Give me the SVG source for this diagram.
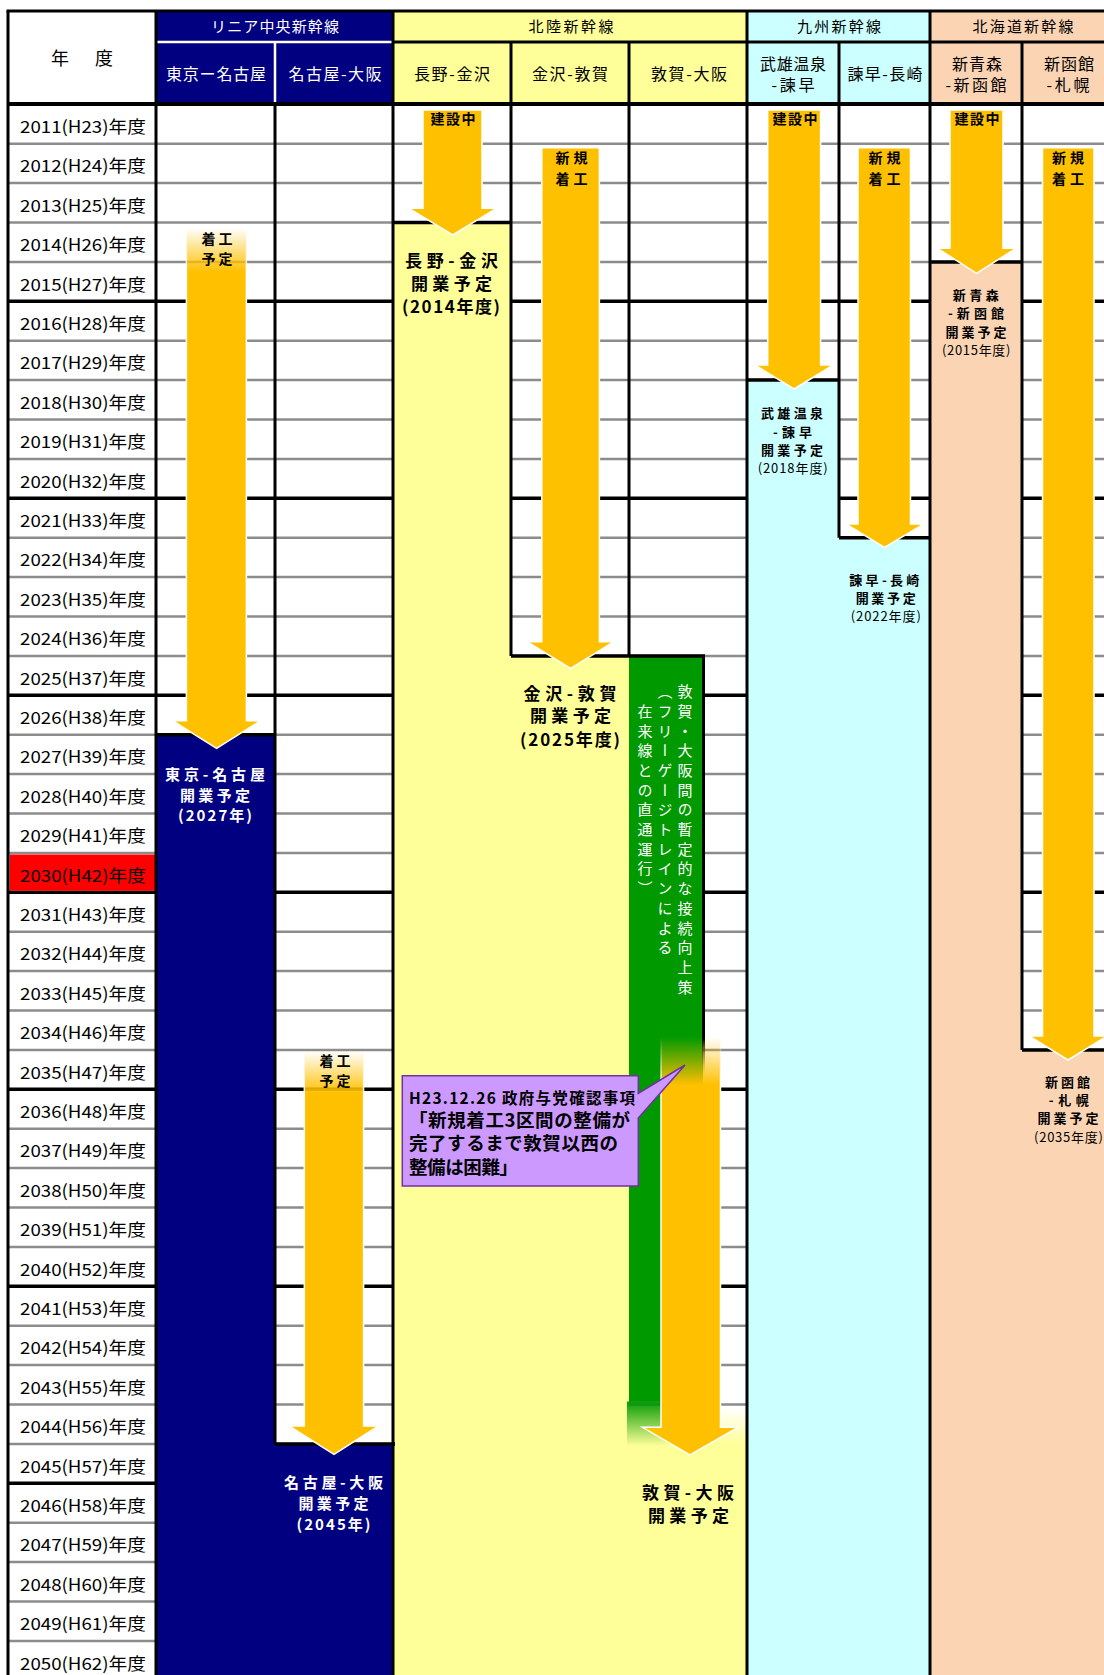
<svg xmlns="http://www.w3.org/2000/svg" width="1104" height="1675" viewBox="0 0 1104 1675">
<defs>
<style>
text{font-family:"Noto Sans CJK JP","Noto Sans CJK SC",sans-serif;}
.yr{font-size:17px;fill:#000;}
.hd{font-size:16px;fill:#000;}
.hw{font-size:16px;fill:#fff;}
.gt{font-size:15px;}
.b14{font-size:14px;font-weight:700;fill:#000;}
.b18{font-size:17px;font-weight:700;fill:#000;}
.w16{font-size:15px;font-weight:700;fill:#fff;}
.b13{font-size:13px;font-weight:700;fill:#000;}
.n13{font-size:13px;fill:#000;}
.vt{font-size:15px;fill:#fff;writing-mode:vertical-rl;letter-spacing:4.7px;}
.cb{font-weight:700;fill:#000;}
.gl{stroke:#8c8c8c;stroke-width:2.5;fill:none;}
.bl{stroke:#000;stroke-width:3.5;fill:none;}
.sep{stroke:#000;stroke-width:3;fill:none;}
.arr{stroke:#fff;stroke-width:1.5;}
</style>
<linearGradient id="gA" gradientUnits="userSpaceOnUse" x1="0" y1="228" x2="0" y2="272">
<stop offset="0" stop-color="#FFC000" stop-opacity="0"/><stop offset="1" stop-color="#FFC000" stop-opacity="1"/>
</linearGradient>
<linearGradient id="gAs" gradientUnits="userSpaceOnUse" x1="0" y1="228" x2="0" y2="272">
<stop offset="0" stop-color="#fff" stop-opacity="0"/><stop offset="1" stop-color="#fff" stop-opacity="1"/>
</linearGradient>
<linearGradient id="gB" gradientUnits="userSpaceOnUse" x1="0" y1="1051" x2="0" y2="1094">
<stop offset="0" stop-color="#FFC000" stop-opacity="0"/><stop offset="1" stop-color="#FFC000" stop-opacity="1"/>
</linearGradient>
<linearGradient id="gBs" gradientUnits="userSpaceOnUse" x1="0" y1="1051" x2="0" y2="1094">
<stop offset="0" stop-color="#fff" stop-opacity="0"/><stop offset="1" stop-color="#fff" stop-opacity="1"/>
</linearGradient>
<linearGradient id="gE" gradientUnits="userSpaceOnUse" x1="0" y1="1037" x2="0" y2="1085">
<stop offset="0" stop-color="#FFC000" stop-opacity="0"/><stop offset="1" stop-color="#FFC000" stop-opacity="1"/>
</linearGradient>
<linearGradient id="gEs" gradientUnits="userSpaceOnUse" x1="0" y1="1037" x2="0" y2="1085">
<stop offset="0" stop-color="#fff" stop-opacity="0"/><stop offset="1" stop-color="#fff" stop-opacity="1"/>
</linearGradient>
<linearGradient id="gGreen" gradientUnits="userSpaceOnUse" x1="0" y1="1400" x2="0" y2="1446">
<stop offset="0" stop-color="#009900" stop-opacity="1"/><stop offset="1" stop-color="#009900" stop-opacity="0"/>
</linearGradient>
<linearGradient id="gWhite" gradientUnits="userSpaceOnUse" x1="0" y1="1408" x2="0" y2="1444">
<stop offset="0" stop-color="#fff" stop-opacity="1"/><stop offset="1" stop-color="#fff" stop-opacity="0"/>
</linearGradient>
<linearGradient id="gLine" gradientUnits="userSpaceOnUse" x1="0" y1="1040" x2="0" y2="1075">
<stop offset="0" stop-color="#000" stop-opacity="1"/><stop offset="1" stop-color="#000" stop-opacity="0"/>
</linearGradient>
</defs>

<rect x="0" y="0" width="1104" height="1675" fill="#fff"/>

<!-- row lines -->
<g id="row-lines">
<path class="gl" d="M8 143.7H1104M8 183.1H1104M8 222.5H1104M8 261.9H1104M8 340.7H1104M8 380.1H1104M8 419.5H1104M8 458.9H1104M8 537.7H1104M8 577.1H1104M8 616.5H1104M8 655.9H1104M8 734.7H1104M8 774.1H1104M8 813.5H1104M8 852.9H1104M8 931.7H1104M8 971.1H1104M8 1010.5H1104M8 1049.9H1104M8 1128.7H1104M8 1168.1H1104M8 1207.5H1104M8 1246.9H1104M8 1325.7H1104M8 1365.1H1104M8 1404.5H1104M8 1443.9H1104M8 1522.7H1104M8 1562.1H1104M8 1601.5H1104M8 1640.9H1104"/>
<path class="bl" d="M8 301.3H1104M8 498.3H1104M8 695.3H1104M8 892.3H1104M8 1089.3H1104M8 1286.3H1104M8 1483.3H1104"/>
</g>

<!-- coloured regions -->
<g id="regions">
<rect x="9.5" y="854.5" width="145.5" height="36.3" fill="#FF0000"/>
<rect x="156" y="734.7" width="119" height="941" fill="#000080"/>
<rect x="275" y="1443.9" width="118" height="232" fill="#000080"/>
<rect x="393" y="222.5" width="118" height="1453" fill="#FFFF99"/>
<rect x="511" y="655.9" width="118" height="1020" fill="#FFFF99"/>
<rect x="629" y="1407" width="118" height="268" fill="#FFFF99"/>
<rect x="629" y="655.9" width="74" height="746" fill="#009900"/>
<rect x="627" y="1401.5" width="76" height="45" fill="url(#gGreen)"/>
<rect x="705" y="1407" width="42" height="37" fill="url(#gWhite)"/>
<rect x="747" y="380.1" width="92" height="1295" fill="#CCFFFF"/>
<rect x="839" y="537.7" width="91" height="1138" fill="#CCFFFF"/>
<rect x="930" y="261.9" width="92" height="1414" fill="#FBD4B4"/>
<rect x="1022" y="1049.9" width="82" height="626" fill="#FBD4B4"/>
</g>

<!-- header -->
<g id="header">
<rect x="8" y="11" width="148" height="93" fill="#fff"/>
<rect x="156" y="11" width="237" height="93" fill="#000080"/>
<rect x="393" y="11" width="354" height="93" fill="#FFFF99"/>
<rect x="747" y="11" width="183" height="93" fill="#CCFFFF"/>
<rect x="930" y="11" width="174" height="93" fill="#FBD4B4"/>
<path d="M156 42H393M275 42V104" stroke="#fff" stroke-width="2.5" fill="none"/>
<path class="sep" d="M393 42H1104M511 42V104M629 42V104M839 42V104M1022 42V104"/>
<path d="M8 104H1104" stroke="#000" stroke-width="4" fill="none"/>
<path d="M6.5 11H1104" stroke="#000" stroke-width="3" fill="none"/>
<text x="51" y="65" style="font-size:18px;letter-spacing:4px">年　度</text>
<text x="275" y="32" class="gt" fill="#fff" text-anchor="middle" textLength="128">リニア中央新幹線</text>
<text x="571" y="32" class="gt" fill="#000" text-anchor="middle" textLength="85">北陸新幹線</text>
<text x="839" y="32" class="gt" fill="#000" text-anchor="middle" textLength="84">九州新幹線</text>
<text x="1023" y="32" class="gt" fill="#000" text-anchor="middle" textLength="101">北海道新幹線</text>
<text x="216" y="80" class="hw" text-anchor="middle" textLength="100">東京ー名古屋</text>
<text x="335" y="80" class="hw" text-anchor="middle" textLength="93">名古屋-大阪</text>
<text x="452" y="80" class="hd" text-anchor="middle" textLength="76">長野-金沢</text>
<text x="570" y="80" class="hd" text-anchor="middle" textLength="76">金沢-敦賀</text>
<text x="689" y="80" class="hd" text-anchor="middle" textLength="76">敦賀-大阪</text>
<text x="793" y="70" class="hd" text-anchor="middle" textLength="66">武雄温泉</text>
<text x="793" y="91" class="hd" text-anchor="middle" textLength="43">-諫早</text>
<text x="885" y="80" class="hd" text-anchor="middle" textLength="75">諫早-長崎</text>
<text x="977" y="70" class="hd" text-anchor="middle" textLength="50">新青森</text>
<text x="976" y="91" class="hd" text-anchor="middle" textLength="61">-新函館</text>
<text x="1069" y="70" class="hd" text-anchor="middle" textLength="50">新函館</text>
<text x="1068" y="91" class="hd" text-anchor="middle" textLength="43">-札幌</text>
</g>

<!-- region borders and column separators -->
<g id="borders">
<path class="sep" d="M8 11V1675M156 11V1675M393 11V1675M747 11V1675M930 11V1675"/>
<path class="sep" d="M275 104V1444M511 104V656M629 104V656M839 104V537.7M1022 104V1050M703.5 656V1040"/>
<path d="M703.5 1040V1075" stroke="url(#gLine)" stroke-width="3" fill="none"/>
<path class="bl" d="M393 222.5H511M511 655.9H705M156 734.7H275M275 1443.9H395M747 380.1H839M839 537.7H930M930 261.9H1022M1022 1049.9H1104"/>
</g>

<!-- year column -->
<g id="years">
<text class="yr" x="20" y="133.0" textLength="126" lengthAdjust="spacingAndGlyphs">2011(H23)年度</text>
<text class="yr" x="20" y="172.4" textLength="126" lengthAdjust="spacingAndGlyphs">2012(H24)年度</text>
<text class="yr" x="20" y="211.8" textLength="126" lengthAdjust="spacingAndGlyphs">2013(H25)年度</text>
<text class="yr" x="20" y="251.2" textLength="126" lengthAdjust="spacingAndGlyphs">2014(H26)年度</text>
<text class="yr" x="20" y="290.6" textLength="126" lengthAdjust="spacingAndGlyphs">2015(H27)年度</text>
<text class="yr" x="20" y="330.0" textLength="126" lengthAdjust="spacingAndGlyphs">2016(H28)年度</text>
<text class="yr" x="20" y="369.4" textLength="126" lengthAdjust="spacingAndGlyphs">2017(H29)年度</text>
<text class="yr" x="20" y="408.8" textLength="126" lengthAdjust="spacingAndGlyphs">2018(H30)年度</text>
<text class="yr" x="20" y="448.2" textLength="126" lengthAdjust="spacingAndGlyphs">2019(H31)年度</text>
<text class="yr" x="20" y="487.6" textLength="126" lengthAdjust="spacingAndGlyphs">2020(H32)年度</text>
<text class="yr" x="20" y="527.0" textLength="126" lengthAdjust="spacingAndGlyphs">2021(H33)年度</text>
<text class="yr" x="20" y="566.4" textLength="126" lengthAdjust="spacingAndGlyphs">2022(H34)年度</text>
<text class="yr" x="20" y="605.8" textLength="126" lengthAdjust="spacingAndGlyphs">2023(H35)年度</text>
<text class="yr" x="20" y="645.2" textLength="126" lengthAdjust="spacingAndGlyphs">2024(H36)年度</text>
<text class="yr" x="20" y="684.6" textLength="126" lengthAdjust="spacingAndGlyphs">2025(H37)年度</text>
<text class="yr" x="20" y="724.0" textLength="126" lengthAdjust="spacingAndGlyphs">2026(H38)年度</text>
<text class="yr" x="20" y="763.4" textLength="126" lengthAdjust="spacingAndGlyphs">2027(H39)年度</text>
<text class="yr" x="20" y="802.8" textLength="126" lengthAdjust="spacingAndGlyphs">2028(H40)年度</text>
<text class="yr" x="20" y="842.2" textLength="126" lengthAdjust="spacingAndGlyphs">2029(H41)年度</text>
<text class="yr" x="20" y="881.6" textLength="126" lengthAdjust="spacingAndGlyphs" fill="#fff">2030(H42)年度</text>
<text class="yr" x="20" y="921.0" textLength="126" lengthAdjust="spacingAndGlyphs">2031(H43)年度</text>
<text class="yr" x="20" y="960.4" textLength="126" lengthAdjust="spacingAndGlyphs">2032(H44)年度</text>
<text class="yr" x="20" y="999.8" textLength="126" lengthAdjust="spacingAndGlyphs">2033(H45)年度</text>
<text class="yr" x="20" y="1039.2" textLength="126" lengthAdjust="spacingAndGlyphs">2034(H46)年度</text>
<text class="yr" x="20" y="1078.6" textLength="126" lengthAdjust="spacingAndGlyphs">2035(H47)年度</text>
<text class="yr" x="20" y="1118.0" textLength="126" lengthAdjust="spacingAndGlyphs">2036(H48)年度</text>
<text class="yr" x="20" y="1157.4" textLength="126" lengthAdjust="spacingAndGlyphs">2037(H49)年度</text>
<text class="yr" x="20" y="1196.8" textLength="126" lengthAdjust="spacingAndGlyphs">2038(H50)年度</text>
<text class="yr" x="20" y="1236.2" textLength="126" lengthAdjust="spacingAndGlyphs">2039(H51)年度</text>
<text class="yr" x="20" y="1275.6" textLength="126" lengthAdjust="spacingAndGlyphs">2040(H52)年度</text>
<text class="yr" x="20" y="1315.0" textLength="126" lengthAdjust="spacingAndGlyphs">2041(H53)年度</text>
<text class="yr" x="20" y="1354.4" textLength="126" lengthAdjust="spacingAndGlyphs">2042(H54)年度</text>
<text class="yr" x="20" y="1393.8" textLength="126" lengthAdjust="spacingAndGlyphs">2043(H55)年度</text>
<text class="yr" x="20" y="1433.2" textLength="126" lengthAdjust="spacingAndGlyphs">2044(H56)年度</text>
<text class="yr" x="20" y="1472.6" textLength="126" lengthAdjust="spacingAndGlyphs">2045(H57)年度</text>
<text class="yr" x="20" y="1512.0" textLength="126" lengthAdjust="spacingAndGlyphs">2046(H58)年度</text>
<text class="yr" x="20" y="1551.4" textLength="126" lengthAdjust="spacingAndGlyphs">2047(H59)年度</text>
<text class="yr" x="20" y="1590.8" textLength="126" lengthAdjust="spacingAndGlyphs">2048(H60)年度</text>
<text class="yr" x="20" y="1630.2" textLength="126" lengthAdjust="spacingAndGlyphs">2049(H61)年度</text>
<text class="yr" x="20" y="1669.6" textLength="126" lengthAdjust="spacingAndGlyphs">2050(H62)年度</text>
</g>

<!-- arrows -->
<g id="connectors">
<path id="arrow-tokyo-nagoya" fill="url(#gA)" stroke="url(#gAs)" stroke-width="1.5" d="M186.4 228H246.4V720.7H260.7L216.6 748.3L172.5 720.7H186.4Z"/>
<path id="arrow-nagoya-osaka" fill="url(#gB)" stroke="url(#gBs)" stroke-width="1.5" d="M304.3 1051.7H363.6V1426H378.6L334 1454.3L289 1426H304.3Z"/>
<path id="arrow-nagano-kanazawa" class="arr" fill="#FFC000" d="M423 110H482V208.3H496.4L452.7 235L409 208.3H423Z"/>
<path id="arrow-kanazawa-tsuruga" class="arr" fill="#FFC000" d="M541.8 147.7H599.4V641.7H614L570.6 668.3L527 641.7H541.8Z"/>
<path id="arrow-tsuruga-osaka" fill="url(#gE)" stroke="url(#gEs)" stroke-width="1.5" d="M661 1037H720.5V1427.3H737.8L690 1455L642.5 1427.3H661Z"/>
<path id="arrow-takeo-isahaya" class="arr" fill="#FFC000" d="M767.7 110H820.6V365H833.5L794 389L755 365H767.7Z"/>
<path id="arrow-isahaya-nagasaki" class="arr" fill="#FFC000" d="M858 147.7H910.5V524H924L884.5 547.3L845.8 524H858Z"/>
<path id="arrow-aomori-hakodate" class="arr" fill="#FFC000" d="M950 110H1003V248.3H1016L976.5 273.3L937.5 248.3H950Z"/>
<path id="arrow-hakodate-sapporo" class="arr" fill="#FFC000" d="M1042.5 147.7H1094V1036H1107L1068 1060L1029 1036H1042.5Z"/>
</g>

<!-- labels: Linear -->
<g id="node-linear-a">
<text class="b14" x="217" y="243.5" text-anchor="middle" textLength="31">着工</text>
<text class="b14" x="217" y="263.5" text-anchor="middle" textLength="31">予定</text>
<text class="w16" x="215" y="780" text-anchor="middle" textLength="100">東京-名古屋</text>
<text class="w16" x="215" y="800.7" text-anchor="middle" textLength="70">開業予定</text>
<text class="w16" x="215" y="820.7" text-anchor="middle" textLength="74">(2027年)</text>
</g>
<g id="node-linear-b">
<text class="b14" x="335" y="1066.3" text-anchor="middle" textLength="31">着工</text>
<text class="b14" x="335" y="1086.3" text-anchor="middle" textLength="31">予定</text>
<text class="w16" x="333.5" y="1488.4" text-anchor="middle" textLength="99">名古屋-大阪</text>
<text class="w16" x="333.5" y="1509" text-anchor="middle" textLength="70">開業予定</text>
<text class="w16" x="333.5" y="1529.7" text-anchor="middle" textLength="74">(2045年)</text>
</g>

<!-- Hokuriku -->
<g id="node-nagano-kanazawa">
<text class="b14" x="453" y="123.6" text-anchor="middle" textLength="45">建設中</text>
<text class="b18" x="451.5" y="266.5" text-anchor="middle" textLength="93">長野-金沢</text>
<text class="b18" x="451.5" y="289.8" text-anchor="middle" textLength="81">開業予定</text>
<text class="b18" x="451" y="313.2" text-anchor="middle" textLength="98">(2014年度)</text>
</g>
<g id="node-kanazawa-tsuruga">
<text class="b14" x="571.5" y="162.6" text-anchor="middle" textLength="32">新規</text>
<text class="b14" x="571.5" y="183.6" text-anchor="middle" textLength="32">着工</text>
<text class="b18" x="570" y="699.5" text-anchor="middle" textLength="93">金沢-敦賀</text>
<text class="b18" x="570.5" y="722" text-anchor="middle" textLength="81">開業予定</text>
<text class="b18" x="570" y="745.8" text-anchor="middle" textLength="100">(2025年度)</text>
</g>
<g id="node-tsuruga-osaka">
<text class="vt" x="685" y="684">敦賀・大阪間の暫定的な接続向上策</text>
<text class="vt" x="665" y="684">（フリーゲージトレインによる</text>
<text class="vt" x="645" y="703.7">在来線との直通運行）</text>
<text class="b18" x="688" y="1499.2" text-anchor="middle" textLength="92">敦賀-大阪</text>
<text class="b18" x="688.5" y="1521.5" text-anchor="middle" textLength="81">開業予定</text>
</g>

<!-- Kyushu -->
<g id="node-takeo-isahaya">
<text class="b14" x="795" y="123.6" text-anchor="middle" textLength="45">建設中</text>
<text class="b13" x="792" y="418.3" text-anchor="middle" textLength="62">武雄温泉</text>
<text class="b13" x="792.5" y="436.7" text-anchor="middle" textLength="39">-諫早</text>
<text class="b13" x="792" y="455" text-anchor="middle" textLength="62">開業予定</text>
<text class="n13" x="792.7" y="472.7" text-anchor="middle" textLength="70">(2018年度)</text>
</g>
<g id="node-isahaya-nagasaki">
<text class="b14" x="884.6" y="162.6" text-anchor="middle" textLength="32">新規</text>
<text class="b14" x="884.6" y="183.6" text-anchor="middle" textLength="32">着工</text>
<text class="b13" x="884.3" y="585" text-anchor="middle" textLength="70">諫早-長崎</text>
<text class="b13" x="885.7" y="603.3" text-anchor="middle" textLength="60">開業予定</text>
<text class="n13" x="885.8" y="621" text-anchor="middle" textLength="70">(2022年度)</text>
</g>

<!-- Hokkaido -->
<g id="node-aomori-hakodate">
<text class="b14" x="977" y="123.6" text-anchor="middle" textLength="45">建設中</text>
<text class="b13" x="975.8" y="300" text-anchor="middle" textLength="46">新青森</text>
<text class="b13" x="976" y="318.3" text-anchor="middle" textLength="56">-新函館</text>
<text class="b13" x="976" y="336.7" text-anchor="middle" textLength="61">開業予定</text>
<text class="n13" x="976.2" y="355" text-anchor="middle" textLength="68.5">(2015年度)</text>
</g>
<g id="node-hakodate-sapporo">
<text class="b14" x="1068" y="162.6" text-anchor="middle" textLength="32">新規</text>
<text class="b14" x="1068" y="183.6" text-anchor="middle" textLength="32">着工</text>
<text class="b13" x="1067.5" y="1086.7" text-anchor="middle" textLength="45">新函館</text>
<text class="b13" x="1068.8" y="1105" text-anchor="middle" textLength="40">-札幌</text>
<text class="b13" x="1068" y="1123.3" text-anchor="middle" textLength="61">開業予定</text>
<text class="n13" x="1068.5" y="1141.7" text-anchor="middle" textLength="69">(2035年度)</text>
</g>

<!-- callout -->
<g id="node-callout">
<path d="M402.3 1075.7H638.3V1093.3L685 1065L638.3 1118V1186H402.3Z" fill="#CC99FF" stroke="#7030A0" stroke-width="1.5"/>
<text class="cb" x="409" y="1104" style="font-size:15.5px" textLength="226">H23.12.26 政府与党確認事項</text>
<text class="cb" x="409" y="1127" style="font-size:18.5px" textLength="221">「新規着工3区間の整備が</text>
<text class="cb" x="409" y="1150" style="font-size:18.5px" textLength="209">完了するまで敦賀以西の</text>
<text class="cb" x="409" y="1173.5" style="font-size:18.5px" textLength="109">整備は困難」</text>
</g>
</svg>
